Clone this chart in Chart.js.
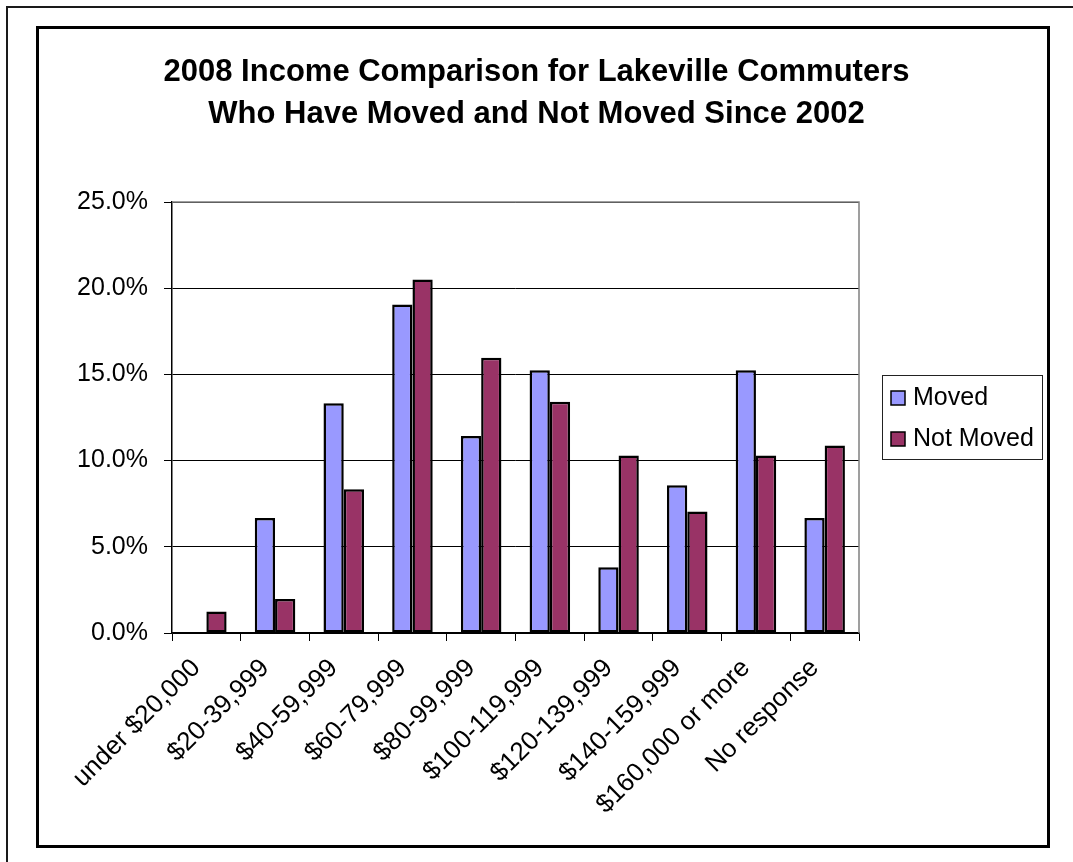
<!DOCTYPE html>
<html>
<head>
<meta charset="utf-8">
<title>2008 Income Comparison</title>
<script src="https://cdn.jsdelivr.net/npm/chart.js@4"></script>
<style>
  html, body { margin: 0; padding: 0; background: #fff; }
  canvas { display: block; }
</style>
</head>
<body>
<canvas id="incomeChart" width="1073" height="862"></canvas>
<script>
// income brackets and share of respondents (%) in each group
const categories = ['under $20,000', '$20-39,999', '$40-59,999', '$60-79,999', '$80-99,999',
  '$100-119,999', '$120-139,999', '$140-159,999', '$160,000 or more', 'No response'];
const movedValues = [0, 6.67, 13.33, 19.05, 11.43, 15.24, 3.81, 8.57, 15.24, 6.67];
const notMovedValues = [1.25, 1.97, 8.34, 20.51, 15.97, 13.42, 10.29, 7.05, 10.29, 10.87];
const seriesNames = ['Moved', 'Not Moved'];
const yTicks = [0, 5, 10, 15, 20, 25];
const titleLines = ['2008 Income Comparison for Lakeville Commuters', 'Who Have Moved and Not Moved Since 2002'];

const FONT = '"Liberation Sans", Arial, Helvetica, sans-serif';
const colors = ['#9999FF', '#993366'];

Chart.defaults.font.family = FONT;
Chart.defaults.color = '#000';

// page frame, chart frame and plot area outline
const framePlugin = {
  id: 'frames',
  beforeDraw(chart) {
    const ctx = chart.ctx;
    ctx.save();
    ctx.fillStyle = '#fff';
    ctx.fillRect(0, 0, chart.width, chart.height);
    ctx.strokeStyle = '#1a1a1a';
    ctx.lineWidth = 2;
    ctx.beginPath();
    ctx.moveTo(6, 7);
    ctx.lineTo(chart.width, 7);
    ctx.moveTo(7, 6);
    ctx.lineTo(7, chart.height);
    ctx.stroke();
    ctx.strokeStyle = '#000';
    ctx.lineWidth = 3;
    ctx.strokeRect(37.5, 27.5, 1011, 819);
    ctx.restore();
  },
  afterDatasetsDraw(chart) {
    const a = chart.chartArea;
    const ctx = chart.ctx;
    ctx.save();
    ctx.strokeStyle = '#808080';
    ctx.lineWidth = 1.5;
    ctx.beginPath();
    ctx.moveTo(a.left, a.top);
    ctx.lineTo(a.right, a.top);
    ctx.lineTo(a.right, a.bottom);
    ctx.stroke();
    ctx.restore();
  }
};

// boxed legend to the right of the plot
const legendPlugin = {
  id: 'boxLegend',
  afterDraw(chart) {
    const ctx = chart.ctx;
    const box = { x: 882, y: 375, w: 160, h: 84 };
    ctx.save();
    ctx.strokeStyle = '#222';
    ctx.lineWidth = 1;
    ctx.strokeRect(box.x + 0.5, box.y + 0.5, box.w, box.h);
    ctx.font = '25px ' + FONT;
    ctx.textBaseline = 'middle';
    chart.data.datasets.forEach((ds, i) => {
      const cy = 398 + i * 41;
      ctx.fillStyle = ds.backgroundColor;
      ctx.fillRect(891, cy - 7, 14, 14);
      ctx.strokeStyle = '#000';
      ctx.lineWidth = 1.5;
      ctx.strokeRect(891, cy - 7, 14, 14);
      ctx.fillStyle = '#000';
      ctx.fillText(ds.label, 913, cy);
    });
    ctx.restore();
  }
};

new Chart(document.getElementById('incomeChart'), {
  type: 'bar',
  data: {
    labels: categories,
    datasets: [
      { label: seriesNames[0], data: movedValues, backgroundColor: colors[0] },
      { label: seriesNames[1], data: notMovedValues, backgroundColor: colors[1] }
    ]
  },
  options: {
    responsive: false,
    devicePixelRatio: 1,
    animation: false,
    layout: { padding: 0 },
    datasets: {
      bar: {
        borderColor: '#000',
        borderWidth: 2.5,
        borderSkipped: false,
        barPercentage: 1,
        categoryPercentage: 0.59
      }
    },
    plugins: {
      legend: { display: false },
      tooltip: { enabled: false },
      title: {
        display: true,
        text: titleLines,
        color: '#000',
        font: { size: 31, weight: 'bold', lineHeight: 1.355 },
        padding: { top: 51, bottom: 67 }
      }
    },
    scales: {
      x: {
        grid: { display: true, drawOnChartArea: false, drawTicks: true, tickLength: 8, color: '#000', offset: true },
        border: { color: '#000', width: 1.5 },
        ticks: { font: { size: 26 }, minRotation: 45, maxRotation: 45, padding: 12, labelOffset: -10, autoSkip: false },
        afterFit(scale) { scale.height = 229; }
      },
      y: {
        min: 0,
        max: 25,
        afterBuildTicks(scale) { scale.ticks = yTicks.map(v => ({ value: v })); },
        grid: { color: '#000', lineWidth: 1, tickLength: 8 },
        border: { color: '#000', width: 1.5 },
        ticks: { font: { size: 25 }, padding: 16, callback: v => v.toFixed(1) + '%' },
        afterFit(scale) { scale.width = 172; }
      },
      // empty right-hand column that holds the legend
      side: {
        position: 'right',
        grid: { display: false },
        border: { display: false },
        ticks: { display: false },
        afterFit(scale) { scale.width = 214; }
      }
    }
  },
  plugins: [framePlugin, legendPlugin]
});
</script>
</body>
</html>
